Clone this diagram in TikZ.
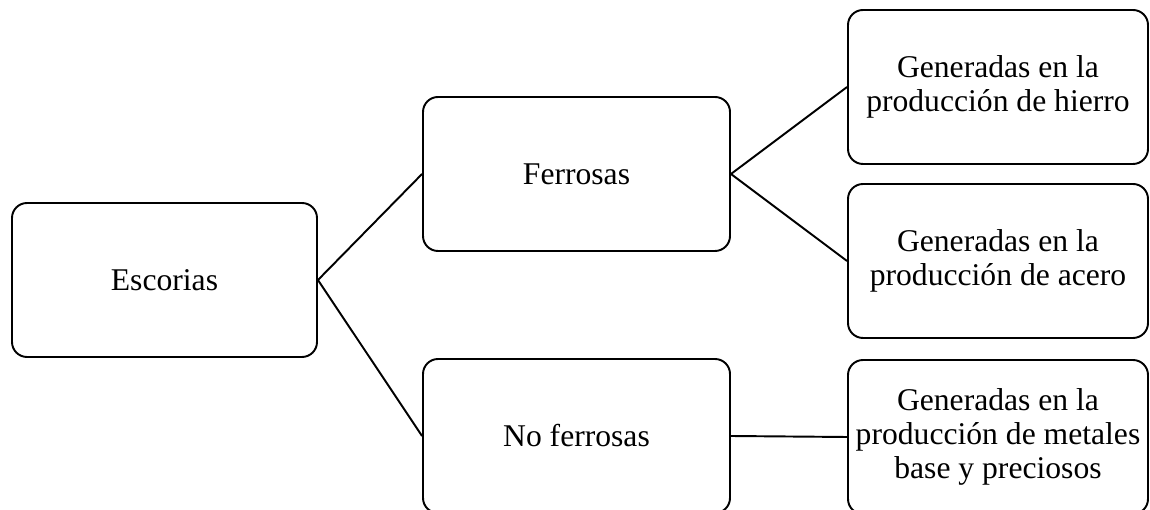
\documentclass[tikz,border=0pt]{standalone}
\usepackage{fontspec}
\setmainfont{Liberation Serif}
\usepackage{xcolor}

\begin{document}
\begin{tikzpicture}[
		caja/.style={draw, line width=1.1pt, rounded corners=0.3cm, align=center, minimum height=3.08cm, font=\fontsize{18}{19.2}\selectfont},
		linea/.style={line width=1.1pt}]
		\useasboundingbox (0,0) rectangle (23,-10.2);
		\node[caja, minimum width=6.1cm] (esc) at (3.29,-5.6) {Escorias};
		\node[caja, minimum width=6.14cm] (fer) at (11.53,-3.48) {Ferrosas};
		\node[caja, minimum width=6.14cm] (nofer) at (11.53,-8.72) {No ferrosas};
		\node[caja, minimum width=6cm] (hie) at (19.96,-1.74) {Generadas en la\\producción de hierro};
		\node[caja, minimum width=6cm] (ace) at (19.96,-5.22) {Generadas en la\\producción de acero};
		\node[caja, minimum width=6cm] (met) at (19.96,-8.74) {Generadas en la\\producción de metales\\base y preciosos};
		\draw[linea] (esc.east)--(fer.west) (esc.east)--(nofer.west);
		\draw[linea] (fer.east)--(hie.west) (fer.east)--(ace.west);
		\draw[linea] (nofer.east)--(met.west);
	\end{tikzpicture}
\end{document}
